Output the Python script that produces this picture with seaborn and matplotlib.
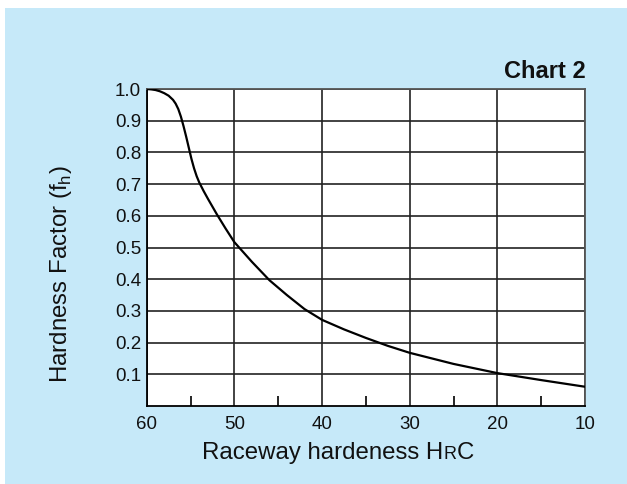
import matplotlib
matplotlib.use("AGG")
import matplotlib.pyplot as plt
import matplotlib.patches as patches
import seaborn as sns
import pandas as pd

# values
hardness = [60, 59.5, 59, 58.5, 58, 57.5, 57, 56.7, 56.4, 56.1, 55.8, 55.5, 55.2,
            54.9, 54.6, 54.3, 54, 53.5, 53, 52, 51, 50, 48, 46, 44, 42, 40,
            37.5, 35, 32.5, 30, 25, 20, 15, 10]
factor = [1.0, 0.999, 0.997, 0.993, 0.987, 0.979, 0.966, 0.954, 0.937, 0.913,
          0.883, 0.85, 0.815, 0.78, 0.75, 0.725, 0.705, 0.678, 0.653, 0.605,
          0.56, 0.517, 0.455, 0.397, 0.35, 0.306, 0.272, 0.242, 0.215, 0.19,
          0.168, 0.133, 0.104, 0.082, 0.061]
y_ticks = [0.1, 0.2, 0.3, 0.4, 0.5, 0.6, 0.7, 0.8, 0.9, 1.0]
x_major = [60, 50, 40, 30, 20, 10]
x_minor = [55, 45, 35, 25, 15]

df = pd.DataFrame({"hardness": hardness, "factor": factor})

sns.set_theme(style="ticks")
plt.rcParams["font.family"] = ["Liberation Sans", "DejaVu Sans"]
plt.rcParams["mathtext.fontset"] = "custom"
plt.rcParams["mathtext.rm"] = "Liberation Sans"

fig = plt.figure(figsize=(6.27, 4.84), dpi=100)
fig.patch.set_facecolor("white")
bg = patches.Rectangle((5 / 627, 0), 622 / 627, 476 / 484, transform=fig.transFigure,
                       facecolor="#c6e9f9", edgecolor="none", zorder=-5)
fig.patches.append(bg)

ax = fig.add_axes([0.234, 0.161, 0.699, 0.655])
ax.set_zorder(2)
ax.set_facecolor("white")
sns.lineplot(data=df, x="hardness", y="factor", color="black", linewidth=1.6, ax=ax,
             zorder=3)

ax.set_xlim(60, 10)
ax.set_ylim(0, 1.0)
ax.set_xticks(x_major)
ax.set_xticks(x_minor, minor=True)
ax.set_yticks(y_ticks)
ax.set_yticklabels([f"{v:.1f}" for v in y_ticks])
ax.tick_params(axis="y", length=0, pad=4, labelsize=13.5, colors="#111111")
ax.tick_params(axis="x", which="major", length=0, pad=7, labelsize=13.5, colors="#111111")
ax.tick_params(axis="x", which="minor", direction="in", length=7, width=1.2, color="black")
ax.grid(True, which="major", color="#222222", linewidth=1.2)
for s in ax.spines.values():
    s.set_visible(True)
    s.set_linewidth(1.3)
    s.set_color("#555555")
ax.spines["left"].set_color("black")
ax.spines["bottom"].set_color("black")
ax.set_xlabel("")
ax.set_ylabel("")

fig.text(61 / 627, 1 - 274 / 484, r"Hardness Factor (f$_\mathrm{h}$)", rotation=90,
         ha="center", va="center", fontsize=17.3, color="#111111")

fig.text(586 / 627, 1 - 78 / 484, "Chart 2", ha="right", va="baseline",
         fontsize=17, fontweight="bold", color="#111111")

# x label with small-cap R
fig.canvas.draw()
r = fig.canvas.get_renderer()
base_y = 1 - 459 / 484
parts = [("Raceway hardeness H", 17.3), ("R", 13), ("C", 17.3)]
texts = []
for s, fs in parts:
    t = fig.text(0, base_y, s, fontsize=fs, va="baseline", color="#111111")
    texts.append(t)
widths = [t.get_window_extent(r).width for t in texts]
total = sum(widths)
x = 338 - total / 2
for t, w in zip(texts, widths):
    t.set_x(x / 627)
    x += w

fig.savefig("out.png", dpi=100, facecolor=fig.get_facecolor())
